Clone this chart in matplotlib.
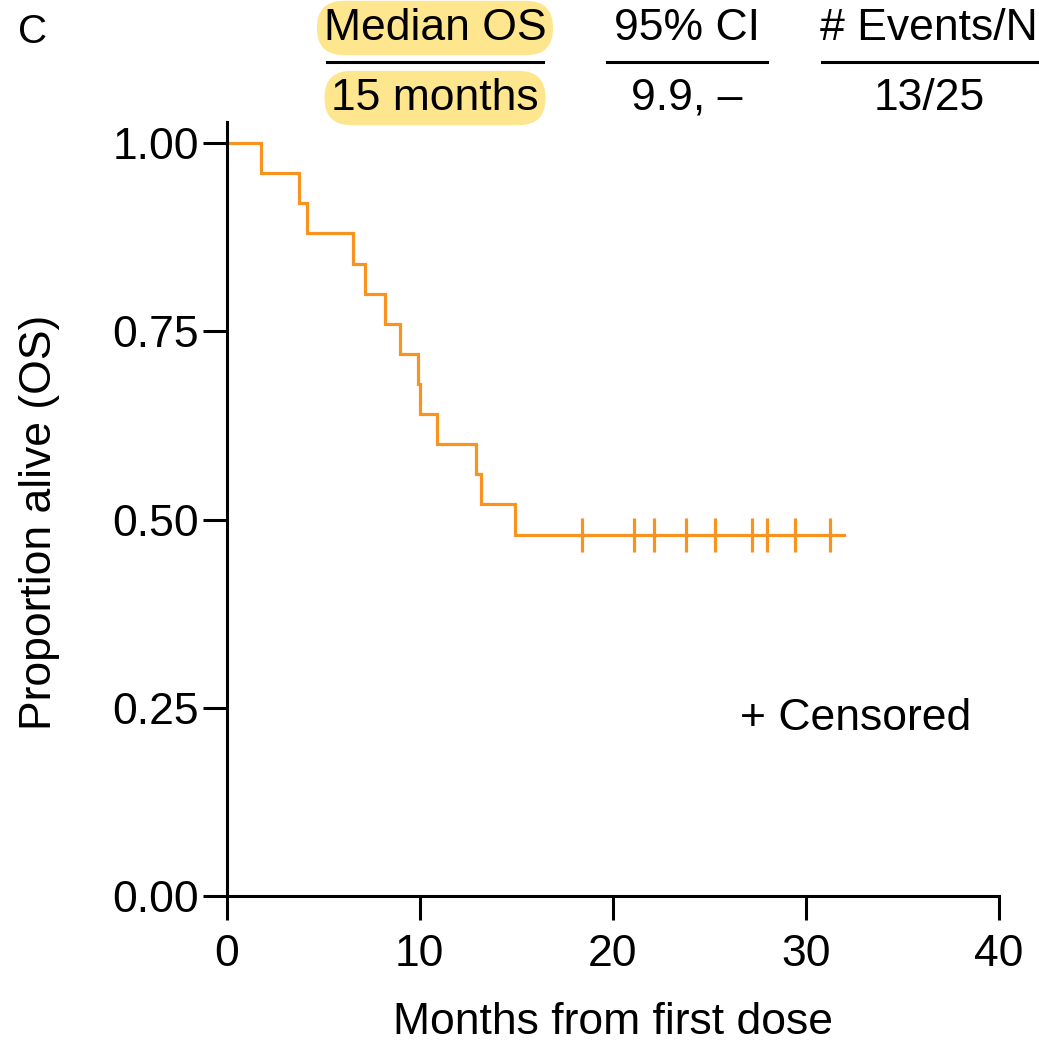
import matplotlib.pyplot as plt
import numpy as np
import matplotlib
from matplotlib.lines import Line2D

# Kaplan-Meier overall survival
event_times = [1.80, 3.75, 4.17, 6.57, 7.19, 8.22, 9.00, 9.92, 10.04, 10.92, 12.91, 13.16, 14.96]
surv_after = [0.96, 0.92, 0.88, 0.84, 0.80, 0.76, 0.72, 0.68, 0.64, 0.60, 0.56, 0.52, 0.48]
censor_times = [18.43, 21.12, 22.15, 23.81, 25.28, 27.23, 27.97, 29.46, 31.27]
last_followup = 31.96

header_titles = ['Median OS', '95% CI', '# Events/N']
header_values = ['15 months', '9.9, \u2013', '13/25']

orange = '#F7931E'
hilite = '#FDE68D'

matplotlib.rcParams['font.family'] = ['Liberation Sans', 'DejaVu Sans']
matplotlib.rcParams.update({'font.size': 32})

W, H = 1039, 1042
fig = plt.figure(figsize=(W / 100, H / 100), dpi=100)
ax = fig.add_axes([226.5 / W, 1 - 896 / H, (999 - 226.5) / W, (896 - 122) / H])

xs = [0] + event_times + [last_followup]
ys = [1.0] + surv_after + [surv_after[-1]]
ax.step(xs, ys, where='post', color=orange, linewidth=2.3, solid_joinstyle='miter')
ax.plot(censor_times, [surv_after[-1]] * len(censor_times), linestyle='none',
        marker='|', markersize=25, markeredgewidth=2.3, color=orange)

ax.set_xlim(0, 40)
ax.set_ylim(0, 1.028)
ax.set_xticks([0, 10, 20, 30, 40])
ax.set_yticks([0, 0.25, 0.5, 0.75, 1.0])
ax.set_yticklabels(['0.00', '0.25', '0.50', '0.75', '1.00'])
for s in ['top', 'right']:
    ax.spines[s].set_visible(False)
for s in ['left', 'bottom']:
    ax.spines[s].set_linewidth(2.2)
ax.tick_params(axis='y', direction='out', length=17, width=2.2, labelsize=32, pad=3)
ax.tick_params(axis='x', direction='out', length=17, width=2.2, labelsize=32, pad=10)
ax.set_xlabel('Months from first dose', fontsize=32, labelpad=20)
ax.set_ylabel('Proportion alive (OS)', fontsize=32)
ax.yaxis.set_label_coords(-0.215, 0.483)

ax.text(26.6, 0.236, '+ Censored', fontsize=32, ha='left', va='center')

# header table
fig.text(18 / W, 1 - 32 / H, 'C', fontsize=29, ha='left', va='center')
centers = [435, 687, 929]
spans = [(327, 543), (607, 767), (822, 1037)]
for i in range(3):
    bb = None
    if i == 0:
        bb = dict(boxstyle='round,pad=0.15,rounding_size=0.6', fc=hilite, ec='none')
    fig.text(centers[i] / W, 1 - 28 / H, header_titles[i], fontsize=32,
             ha='center', va='center', bbox=bb)
    fig.text(centers[i] / W, 1 - 98 / H, header_values[i], fontsize=32,
             ha='center', va='center', bbox=bb)
    x0, x1 = spans[i]
    fig.add_artist(Line2D([x0 / W, x1 / W], [1 - 62 / H, 1 - 62 / H],
                          color='black', linewidth=2.2, transform=fig.transFigure))

plt.savefig('out.png', dpi=100)
